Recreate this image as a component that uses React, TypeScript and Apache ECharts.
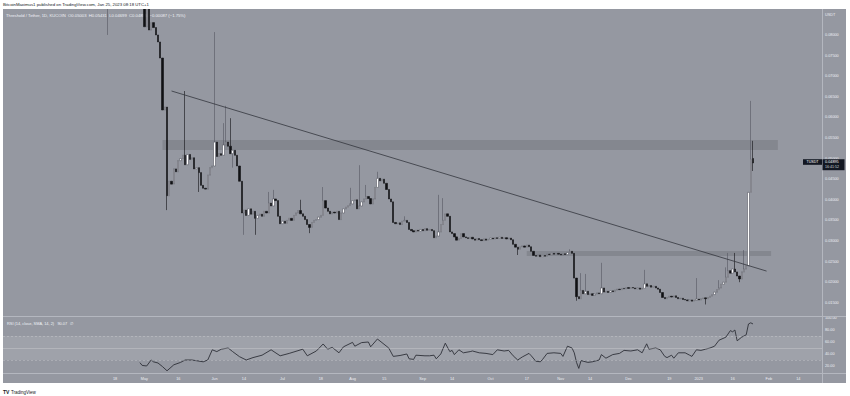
import React, { useEffect, useRef } from "react";
import * as echarts from "echarts";

// ---------- data ----------
const AXIS_START = "2022-02-28";
const AXIS_END = "2023-02-24";
const CANDLE_START = "2022-04-15";
const FIRST_OPEN = 0.089;

// daily closes from 2022-04-15 to 2023-01-25 (USDT)
const closes = [
  0.095,
  0.098, 0.102, 0.105, 0.1, 0.097, 0.103, 0.108, 0.104, 0.099, 0.096, 0.101, 0.097, 0.094, 0.095, 0.093,
  0.082, 0.0905, 0.0812, 0.083, 0.0818, 0.08, 0.0783, 0.0744, 0.0618, 0.0625,
  0.041, 0.0445, 0.0438, 0.0475, 0.0468, 0.0495, 0.05, 0.0508, 0.0485, 0.051,
  0.0498, 0.0502, 0.0475, 0.0478, 0.0466, 0.0435, 0.0428, 0.0426, 0.046, 0.0478,
  0.0482, 0.054, 0.0505, 0.0512, 0.0508, 0.0533, 0.054, 0.053, 0.0512, 0.052,
  0.0508, 0.0482, 0.0445, 0.0368, 0.0375, 0.0362, 0.0378, 0.0365, 0.0372, 0.0355,
  0.0362, 0.0365, 0.036, 0.0372, 0.0368, 0.0392, 0.0385, 0.0402, 0.0398, 0.036,
  0.0342, 0.0348, 0.0343, 0.035, 0.0355, 0.035, 0.0362, 0.0368, 0.0374, 0.0366,
  0.036, 0.0352, 0.034, 0.0333, 0.0345, 0.035, 0.0352, 0.0358, 0.0362, 0.0398,
  0.038, 0.0372, 0.0366, 0.037, 0.0368, 0.0372, 0.0352, 0.0368, 0.0378, 0.0382,
  0.0386, 0.039, 0.0398, 0.04, 0.0378, 0.0385, 0.0395, 0.0402, 0.0408, 0.0403,
  0.039, 0.0402, 0.043, 0.0452, 0.0446, 0.045, 0.044, 0.0425, 0.0402, 0.0395,
  0.0345, 0.0342, 0.0344, 0.034, 0.0348, 0.035, 0.0345, 0.0328, 0.0325, 0.0322,
  0.0326, 0.0324, 0.0328, 0.0325, 0.033, 0.0326, 0.0328, 0.0325, 0.0308, 0.0312,
  0.0322, 0.034, 0.035, 0.0366, 0.036, 0.0322, 0.0318, 0.031, 0.0302, 0.0306,
  0.0318, 0.031, 0.0308, 0.0306, 0.0309, 0.0305, 0.0302, 0.0306, 0.0303, 0.0301,
  0.0305, 0.0302, 0.0304, 0.0307, 0.0305, 0.0308, 0.0306, 0.0309, 0.0306, 0.0308,
  0.0305, 0.0307, 0.0303, 0.0292, 0.0285, 0.028, 0.0286, 0.0288, 0.0285, 0.029,
  0.0286, 0.0275, 0.0265, 0.0263, 0.0266, 0.0262, 0.0265, 0.0263, 0.0268, 0.0267,
  0.027, 0.0268, 0.027, 0.0268, 0.0266, 0.0269, 0.0267, 0.0272, 0.0275, 0.027,
  0.021, 0.0165, 0.016, 0.018, 0.0172, 0.0178, 0.017, 0.0172, 0.0168, 0.0171,
  0.0174, 0.0172, 0.0186, 0.0176, 0.0178, 0.0175, 0.0179, 0.0177, 0.0181, 0.0183,
  0.0182, 0.0185, 0.0184, 0.0187, 0.0185, 0.0187, 0.0186, 0.0184, 0.0186, 0.0183,
  0.0185, 0.0196, 0.019, 0.0192, 0.0188, 0.019, 0.0186, 0.0183, 0.0175, 0.0163,
  0.016, 0.0163, 0.0166, 0.0164, 0.0167, 0.0163, 0.016, 0.0161, 0.0158, 0.0157,
  0.0155, 0.0157, 0.0154, 0.0156, 0.0159, 0.0157, 0.016, 0.0162, 0.016, 0.0163,
  0.0166, 0.017, 0.0176, 0.0182, 0.0186, 0.0195, 0.02, 0.0212, 0.0228, 0.0222,
  0.0232, 0.0225, 0.0215, 0.0208, 0.0225, 0.0232, 0.024, 0.0418, 0.04982, 0.04895,
];

const openOverrides: [string, number][] = [["2023-01-25", 0.05003]];

const highWicks: [string, number][] = [
  ["2022-04-15", 0.1], ["2022-05-02", 0.092], ["2022-05-19", 0.0664], ["2022-06-01", 0.0807],
  ["2022-06-05", 0.0586], ["2022-06-06", 0.0628], ["2022-06-08", 0.0598], ["2022-06-25", 0.0419],
  ["2022-06-27", 0.0424], ["2022-07-09", 0.04], ["2022-07-19", 0.0431], ["2022-07-31", 0.0429],
  ["2022-08-04", 0.0484], ["2022-08-07", 0.0436], ["2022-08-12", 0.0468], ["2022-08-24", 0.036],
  ["2022-09-08", 0.0412], ["2022-09-10", 0.0404], ["2022-11-05", 0.028], ["2022-11-10", 0.0222],
  ["2022-11-12", 0.022], ["2022-11-19", 0.0247], ["2022-12-08", 0.023], ["2022-12-31", 0.021],
  ["2023-01-10", 0.0205], ["2023-01-13", 0.0236], ["2023-01-14", 0.0271], ["2023-01-17", 0.0271],
  ["2023-01-21", 0.0278], ["2023-01-24", 0.064], ["2023-01-25", 0.05431],
];

const lowWicks: [string, number][] = [
  ["2022-04-15", 0.08], ["2022-05-11", 0.0375], ["2022-05-25", 0.0419], ["2022-06-09", 0.0478],
  ["2022-06-14", 0.0315], ["2022-06-19", 0.0315], ["2022-07-13", 0.0319], ["2022-10-13", 0.0266],
  ["2022-11-08", 0.0155], ["2023-01-04", 0.0146], ["2023-01-19", 0.02], ["2023-01-25", 0.04699],
];

const rsiDates = [
  "2022-04-29", "2022-04-30", "2022-05-02", "2022-05-04", "2022-05-05", "2022-05-07", "2022-05-09",
  "2022-05-11", "2022-05-14", "2022-05-17", "2022-05-19", "2022-05-22", "2022-05-27", "2022-05-29",
  "2022-05-31", "2022-06-02", "2022-06-04", "2022-06-07", "2022-06-09", "2022-06-12", "2022-06-15",
  "2022-06-18", "2022-06-22", "2022-06-26", "2022-06-30", "2022-07-04", "2022-07-10", "2022-07-12",
  "2022-07-16", "2022-07-19", "2022-07-21", "2022-07-23", "2022-07-26", "2022-07-28", "2022-08-01",
  "2022-08-02", "2022-08-05", "2022-08-08", "2022-08-09", "2022-08-12", "2022-08-14", "2022-08-17",
  "2022-08-19", "2022-08-22", "2022-08-25", "2022-08-26", "2022-08-28", "2022-08-29", "2022-09-02",
  "2022-09-04", "2022-09-06", "2022-09-07", "2022-09-09", "2022-09-11", "2022-09-13", "2022-09-14",
  "2022-09-15", "2022-09-17", "2022-09-19", "2022-09-22", "2022-09-23", "2022-09-26", "2022-09-29",
  "2022-10-02", "2022-10-04", "2022-10-07", "2022-10-09", "2022-10-11", "2022-10-13", "2022-10-15",
  "2022-10-18", "2022-10-19", "2022-10-21", "2022-10-23", "2022-10-24", "2022-10-26", "2022-10-29",
  "2022-11-01", "2022-11-02", "2022-11-04", "2022-11-06", "2022-11-07", "2022-11-08", "2022-11-09",
  "2022-11-10", "2022-11-13", "2022-11-15", "2022-11-18", "2022-11-19", "2022-11-21", "2022-11-24",
  "2022-11-27", "2022-11-29", "2022-12-02", "2022-12-05", "2022-12-07", "2022-12-09", "2022-12-10",
  "2022-12-13", "2022-12-15", "2022-12-17", "2022-12-18", "2022-12-20", "2022-12-21", "2022-12-23",
  "2022-12-26", "2022-12-28", "2022-12-29", "2022-12-31", "2023-01-02", "2023-01-04", "2023-01-06",
  "2023-01-08", "2023-01-10", "2023-01-13", "2023-01-15", "2023-01-16", "2023-01-17", "2023-01-18",
  "2023-01-20", "2023-01-22", "2023-01-23", "2023-01-24", "2023-01-25",
];
const rsiValues = [
  25.6, 21, 20, 30, 27, 25, 19,
  12, 22, 26, 30, 30, 27, 30,
  47, 44, 48, 50, 44, 35.6, 30,
  34, 38, 47, 37, 41, 48, 37,
  45, 56.7, 48, 51, 42, 52, 59.4,
  53, 59, 60, 52, 65, 59, 50,
  36, 37.5, 40, 32, 31, 38, 37,
  37, 38, 32, 40, 58, 44, 46,
  39, 47, 42, 44, 45, 42, 41,
  39, 47, 45, 46, 37, 30, 35,
  41, 37, 28, 27, 31, 41, 42,
  41, 36, 53, 50, 42, 26, 16,
  29, 26, 27, 30, 39, 33, 39,
  41, 46, 45, 47, 42, 57, 48,
  50, 47, 36, 34, 38, 33, 42,
  42, 38, 36, 47, 46, 48, 50,
  53, 63, 68, 79, 77, 80, 62,
  68, 72, 90, 92, 90.07,
];

const tickDates = [
  "2022-04-18", "2022-05-01", "2022-05-16", "2022-06-01", "2022-06-14", "2022-07-01", "2022-07-18",
  "2022-08-01", "2022-08-15", "2022-09-01", "2022-09-14", "2022-10-01", "2022-10-17", "2022-11-01",
  "2022-11-14", "2022-12-01", "2022-12-19", "2023-01-01", "2023-01-16", "2023-02-01", "2023-02-14",
];
const tickLabels = [
  "18", "May", "16", "Jun", "14", "Jul", "18", "Aug", "15", "Sep", "14", "Oct", "17", "Nov",
  "14", "Dec", "19", "2023", "16", "Feb", "14",
];

const priceTicks = [0.015, 0.02, 0.025, 0.03, 0.035, 0.04, 0.045, 0.05, 0.055, 0.06, 0.065, 0.07, 0.075, 0.08];
const rsiTicks = [20, 40, 60, 80, 100];

const upperZoneDates = ["2022-05-09", "2023-02-05"];
const upperZonePrices = [0.05209, 0.05451];
const lowerZoneDates = ["2022-10-17", "2023-02-02"];
const lowerZonePrices = [0.02636, 0.02757];
const trendDates = ["2022-05-13", "2023-01-31"];
const trendPrices = [0.0664, 0.0227];

const headerText = "BitcoinMaximus1 published on TradingView.com, Jan 25, 2023 08:18 UTC+1";
const legendText = "Threshold / Tether, 1D, KUCOIN  O0.05003  H0.05431  L0.04699  C0.04895  \u22120.00087 (\u22121.75%)";
const rsiLegend = "RSI (14, close, SMA, 14, 2)   90.07   \u2205";
const lastPrice = 0.04895;
const countdown = "16:41:52";

// ---------- helpers ----------
const DAY = 86400000;
const parseDay = (s: string) => Date.UTC(+s.slice(0, 4), +s.slice(5, 7) - 1, +s.slice(8, 10));
const isoDay = (t: number) => new Date(t).toISOString().slice(0, 10);

const BG = "#9598a1";
const FONT = "Liberation Sans, Arial, sans-serif";
const LABEL = "#eceef3";

export default function App() {
  const ref = useRef<HTMLDivElement>(null);

  useEffect(() => {
    if (!ref.current) return;
    const chart = echarts.init(ref.current, null, { renderer: "svg" });

    const days: string[] = [];
    for (let t = parseDay(AXIS_START); t <= parseDay(AXIS_END); t += DAY) days.push(isoDay(t));

    const openMap = new Map(openOverrides);
    const hiMap = new Map(highWicks);
    const loMap = new Map(lowWicks);
    const startIdx = days.indexOf(CANDLE_START);
    const candle: any[] = days.map(() => "-");
    closes.forEach((c, k) => {
      const d = days[startIdx + k];
      const o = openMap.has(d) ? openMap.get(d)! : k === 0 ? FIRST_OPEN : closes[k - 1];
      const h = hiMap.has(d) ? hiMap.get(d)! : Math.max(o, c);
      const l = loMap.has(d) ? loMap.get(d)! : Math.min(o, c);
      candle[startIdx + k] = [o, c, l, h];
    });

    const tickMap = new Map(tickDates.map((d, k) => [d, tickLabels[k]]));
    const rsiData = rsiDates.map((d, k) => [d, rsiValues[k]]);

    const baseGraphic = (py: number) => [
      { type: "rect", shape: { x: 0, y: 0, width: 850, height: 9 }, style: { fill: "#ffffff" }, z: 100, silent: true },
      { type: "rect", shape: { x: 0, y: 383, width: 850, height: 13 }, style: { fill: "#ffffff" }, z: 100, silent: true },
      { type: "rect", shape: { x: 0, y: 0, width: 3, height: 396 }, style: { fill: "#ffffff" }, z: 100, silent: true },
      { type: "rect", shape: { x: 846, y: 0, width: 4, height: 396 }, style: { fill: "#ffffff" }, z: 100, silent: true },
      { type: "text", x: 3, y: 4.5, z: 101, style: { text: headerText, fill: "#131722", fontSize: 4.3, fontFamily: FONT, verticalAlign: "middle" } },
      { type: "text", x: 3, y: 392, z: 101, style: { text: "TV", fill: "#131722", fontSize: 5, fontWeight: "bold", fontFamily: FONT, verticalAlign: "middle" } },
      { type: "text", x: 11, y: 392, z: 101, style: { text: "TradingView", fill: "#131722", fontSize: 4.5, fontFamily: FONT, verticalAlign: "middle" } },
      { type: "line", shape: { x1: 3, y1: 316.5, x2: 846, y2: 316.5 }, style: { stroke: "#b4b7bf", lineWidth: 1 }, z: 50, silent: true },
      { type: "line", shape: { x1: 3, y1: 373.5, x2: 846, y2: 373.5 }, style: { stroke: "#b4b7bf", lineWidth: 1 }, z: 50, silent: true },
      { type: "line", shape: { x1: 822.5, y1: 9, x2: 822.5, y2: 383 }, style: { stroke: "#b4b7bf", lineWidth: 1 }, z: 50, silent: true },
      { type: "text", x: 6, y: 15, z: 1, style: { text: legendText, fill: "#f0f2f7", fontSize: 4.2, fontFamily: FONT, verticalAlign: "middle" } },
      { type: "text", x: 7, y: 323, z: 60, style: { text: rsiLegend, fill: "#f0f2f7", fontSize: 3.9, fontFamily: FONT, verticalAlign: "middle" } },
      { type: "text", x: 825, y: 14.5, z: 60, style: { text: "USDT", fill: LABEL, fontSize: 3.8, fontFamily: FONT, verticalAlign: "middle" } },
      { type: "rect", shape: { x: 803, y: py - 3.7, width: 19, height: 5.6 }, style: { fill: "#131722" }, z: 70 },
      { type: "text", x: 812.5, y: py - 0.9, z: 71, style: { text: "TUSDT", fill: "#ffffff", fontSize: 3.6, fontFamily: FONT, align: "center", verticalAlign: "middle" } },
      { type: "rect", shape: { x: 822.5, y: py - 3.7, width: 22, height: 11 }, style: { fill: "#131722" }, z: 70 },
      { type: "text", x: 825, y: py - 0.9, z: 71, style: { text: lastPrice.toFixed(5), fill: "#ffffff", fontSize: 3.8, fontFamily: FONT, verticalAlign: "middle" } },
      { type: "text", x: 825, y: py + 4.2, z: 71, style: { text: countdown, fill: "#d1d4dc", fontSize: 3.6, fontFamily: FONT, verticalAlign: "middle" } },
    ];

    const option: any = {
      animation: false,
      backgroundColor: BG,
      textStyle: { fontFamily: FONT },
      grid: [
        { left: 3, top: 9, width: 819, height: 307 },
        { left: 3, top: 317, width: 819, height: 56 },
      ],
      xAxis: [
        {
          type: "category", gridIndex: 0, data: days, boundaryGap: true,
          axisLine: { show: false }, axisTick: { show: false }, axisLabel: { show: false }, splitLine: { show: false },
        },
        {
          type: "category", gridIndex: 1, data: days, boundaryGap: true,
          axisLine: { show: false }, axisTick: { show: false }, splitLine: { show: false },
          axisLabel: {
            interval: (_i: number, v: string) => tickMap.has(v),
            formatter: (v: string) => tickMap.get(v) || "",
            color: LABEL, fontSize: 3.8, margin: 3.5, hideOverlap: false,
          },
        },
      ],
      yAxis: [
        {
          type: "value", gridIndex: 0, position: "right", min: 0.0118, max: 0.0863, scale: true,
          axisLine: { show: false }, axisTick: { show: false }, splitLine: { show: false },
          axisLabel: { customValues: priceTicks, formatter: (v: number) => v.toFixed(5), color: LABEL, fontSize: 3.8, margin: 3, align: "left" },
        },
        {
          type: "value", gridIndex: 1, position: "right", min: 8.33, max: 101.67,
          axisLine: { show: false }, axisTick: { show: false }, splitLine: { show: false },
          axisLabel: { customValues: rsiTicks, formatter: (v: number) => v.toFixed(2), color: LABEL, fontSize: 3.8, margin: 3, align: "left" },
        },
      ],
      series: [
        {
          type: "candlestick", xAxisIndex: 0, yAxisIndex: 0, data: candle, barWidth: 1.8, clip: true,
          itemStyle: { color: "#ffffff", color0: "#101114", borderColor: "#555861", borderColor0: "#101114", borderWidth: 0.6 },
          markArea: {
            silent: true,
            itemStyle: { color: "rgba(0,0,0,0.11)" },
            data: [
              [{ coord: [upperZoneDates[0], upperZonePrices[0]] }, { coord: [upperZoneDates[1], upperZonePrices[1]] }],
              [{ coord: [lowerZoneDates[0], lowerZonePrices[0]] }, { coord: [lowerZoneDates[1], lowerZonePrices[1]] }],
            ],
          },
          markLine: {
            silent: true, symbol: "none", label: { show: false },
            lineStyle: { color: "#33363d", width: 0.8, type: "solid" },
            data: [[{ coord: [trendDates[0], trendPrices[0]] }, { coord: [trendDates[1], trendPrices[1]] }]],
          },
        },
        {
          type: "line", xAxisIndex: 1, yAxisIndex: 1, data: rsiData, symbol: "none",
          lineStyle: { color: "#2e3038", width: 0.9 },
          markArea: {
            silent: true,
            itemStyle: { color: "rgba(255,255,255,0.1)" },
            data: [[{ yAxis: 30 }, { yAxis: 70 }]],
          },
          markLine: {
            silent: true, symbol: "none", label: { show: false },
            data: [
              { yAxis: 70, lineStyle: { color: "rgba(255,255,255,0.3)", width: 0.7, type: [2, 2] } },
              { yAxis: 30, lineStyle: { color: "rgba(255,255,255,0.3)", width: 0.7, type: [2, 2] } },
              { yAxis: 50, lineStyle: { color: "rgba(255,255,255,0.3)", width: 0.7, type: "solid" } },
            ],
          },
        },
      ],
    };

    chart.setOption(option);
    const py = chart.convertToPixel({ yAxisIndex: 0 }, lastPrice) as number;
    chart.setOption({ graphic: baseGraphic(py) });

    return () => chart.dispose();
  }, []);

  return <div ref={ref} style={{ position: "fixed", left: 0, top: 0, width: 850, height: 396 }} />;
}
